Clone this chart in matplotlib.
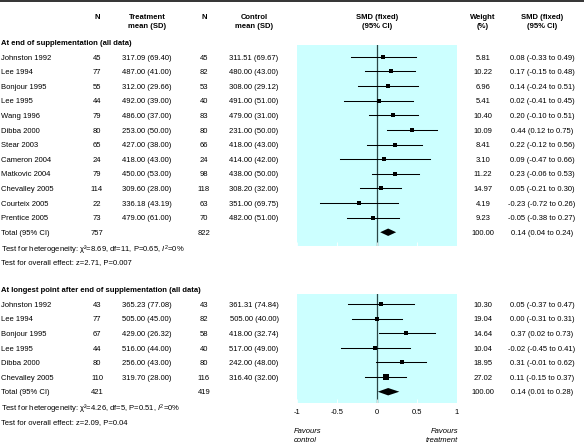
import matplotlib
matplotlib.use('Agg')
import matplotlib.pyplot as plt
import numpy as np

plt.rcParams['font.family'] = ['Liberation Sans', 'DejaVu Sans']
plt.rcParams['font.size'] = 5.5
plt.rcParams['mathtext.fontset'] = 'custom'
plt.rcParams['mathtext.rm'] = 'Liberation Sans'
plt.rcParams['mathtext.it'] = 'Liberation Sans:italic'

# ---- data: at end of supplementation ----
studies1 = ['Johnston 1992', 'Lee 1994', 'Bonjour 1995', 'Lee 1995', 'Wang 1996',
            'Dibba 2000', 'Stear 2003', 'Cameron 2004', 'Matkovic 2004',
            'Chevalley 2005', 'Courteix 2005', 'Prentice 2005']
n_trt1 = [45, 77, 55, 44, 79, 80, 65, 24, 79, 114, 22, 73]
mean_trt1 = [317.09, 487.00, 312.00, 492.00, 486.00, 253.00, 427.00, 418.00, 450.00, 309.60, 336.18, 479.00]
sd_trt1 = [69.40, 41.00, 29.66, 39.00, 37.00, 50.00, 38.00, 43.00, 53.00, 28.00, 43.19, 61.00]
n_ctl1 = [45, 82, 53, 40, 83, 80, 66, 24, 98, 118, 63, 70]
mean_ctl1 = [311.51, 480.00, 308.00, 491.00, 479.00, 231.00, 418.00, 414.00, 438.00, 308.20, 351.00, 482.00]
sd_ctl1 = [69.67, 43.00, 29.12, 51.00, 31.00, 50.00, 43.00, 42.00, 50.00, 32.00, 69.75, 51.00]
weight1 = [5.81, 10.22, 6.96, 5.41, 10.40, 10.09, 8.41, 3.10, 11.22, 14.97, 4.19, 9.23]
smd1 = [0.08, 0.17, 0.14, 0.02, 0.20, 0.44, 0.22, 0.09, 0.23, 0.05, -0.23, -0.05]
lo1 = [-0.33, -0.15, -0.24, -0.41, -0.10, 0.12, -0.12, -0.47, -0.06, -0.21, -0.72, -0.38]
hi1 = [0.49, 0.48, 0.51, 0.45, 0.51, 0.75, 0.56, 0.66, 0.53, 0.30, 0.26, 0.27]
total1 = [757, 822, 0.14, 0.04, 0.24]   # n trt, n ctl, smd, lo, hi
het1 = 'Test for heterogeneity: \u03c7\u00b2=8.69, df=11, P=0.65, $I^2$=0%'
eff1 = 'Test for overall effect: z=2.71, P=0.007'

# ---- data: at longest point after end of supplementation ----
studies2 = ['Johnston 1992', 'Lee 1994', 'Bonjour 1995', 'Lee 1995', 'Dibba 2000', 'Chevalley 2005']
n_trt2 = [43, 77, 67, 44, 80, 110]
mean_trt2 = [365.23, 505.00, 429.00, 516.00, 256.00, 319.70]
sd_trt2 = [77.08, 45.00, 26.32, 44.00, 43.00, 28.00]
n_ctl2 = [43, 82, 58, 40, 80, 116]
mean_ctl2 = [361.31, 505.00, 418.00, 517.00, 242.00, 316.40]
sd_ctl2 = [74.84, 40.00, 32.74, 49.00, 48.00, 32.00]
weight2 = [10.30, 19.04, 14.64, 10.04, 18.95, 27.02]
smd2 = [0.05, 0.00, 0.37, -0.02, 0.31, 0.11]
lo2 = [-0.37, -0.31, 0.02, -0.45, -0.01, -0.15]
hi2 = [0.47, 0.31, 0.73, 0.41, 0.62, 0.37]
total2 = [421, 419, 0.14, 0.01, 0.28]
het2 = 'Test for heterogeneity: \u03c7\u00b2=4.26, df=5, P=0.51, $I^2$=0%'
eff2 = 'Test for overall effect: z=2.09, P=0.04'

ticks = [-1, -0.5, 0, 0.5, 1]
tick_labels = ['-1', '-0.5', '0', '0.5', '1']

W, H = 584, 445
CYAN = '#ccffff'
X_STUDY, X_N1, X_M1, X_N2, X_M2, X_W, X_CI = 1, 97, 147, 204, 254, 483, 542
PX_L, PX_R = 297.3, 456.7
DY = 14.62
BASE = 2.7   # px from visual centre of a line down to its baseline
MATH_FIX = 2.8   # mathtext lines sit a little high with va='baseline'

fig = plt.figure(figsize=(W / 100, H / 100), dpi=100)
bg = fig.add_axes([0, 0, 1, 1])
bg.set_xlim(0, W)
bg.set_ylim(H, 0)
bg.axis('off')


def txt(x, y, s, ha='center', **kw):
    # y is the visual centre of the line in pixels
    if '$' in s:
        y += MATH_FIX
    bg.text(x, y + BASE, s, ha=ha, va='baseline', **kw)


# top rule
bg.plot([0, W], [0.8, 0.8], color='#333333', lw=1.4, solid_capstyle='butt')

# headers
for x, l1, l2 in [(X_N1, 'N', None), (X_M1, 'Treatment', 'mean (SD)'),
                  (X_N2, 'N', None), (X_M2, 'Control', 'mean (SD)'),
                  ((PX_L + PX_R) / 2, 'SMD (fixed)', '(95% CI)'),
                  (X_W, 'Weight', '(%)'), (X_CI, 'SMD (fixed)', '(95% CI)')]:
    txt(x, 16, l1, fontweight='bold')
    if l2:
        txt(x, 25.3, l2, fontweight='bold')


def section(title, y0, top, bottom, studies, nt, mt, st, nc, mc, sc, w, smd, lo, hi,
            total, het, eff, show_axis):
    ys = y0 + DY * np.arange(len(studies) + 3)
    txt(X_STUDY, y0 - DY, title, ha='left', fontweight='bold')
    for i, s in enumerate(studies):
        y = ys[i]
        txt(X_STUDY, y, s, ha='left')
        txt(X_N1, y, '%d' % nt[i])
        txt(X_M1, y, '%.2f (%.2f)' % (mt[i], st[i]))
        txt(X_N2, y, '%d' % nc[i])
        txt(X_M2, y, '%.2f (%.2f)' % (mc[i], sc[i]))
        txt(X_W, y, '%.2f' % w[i])
        txt(X_CI, y, '%.2f (%.2f to %.2f)' % (smd[i], lo[i], hi[i]))
    yt = ys[len(studies)]
    txt(X_STUDY, yt, 'Total (95% CI)', ha='left')
    txt(X_N1, yt, '%d' % total[0])
    txt(X_N2, yt, '%d' % total[1])
    txt(X_W, yt, '100.00')
    txt(X_CI, yt, '%.2f (%.2f to %.2f)' % (total[2], total[3], total[4]))
    txt(X_STUDY, ys[len(studies) + 1], het, ha='left')
    txt(X_STUDY, ys[len(studies) + 2], eff, ha='left')

    ax = fig.add_axes([PX_L / W, 1 - bottom / H, (PX_R - PX_L) / W, (bottom - top) / H])
    ax.set_facecolor(CYAN)
    ax.set_xlim(-1, 1)
    ax.set_ylim(bottom, top)
    for sp in ax.spines.values():
        sp.set_visible(False)
    ax.axvline(0, color='#2a4545', lw=0.9, zorder=1)
    for i in range(len(studies)):
        ax.plot([lo[i], hi[i]], [ys[i], ys[i]], color='black', lw=0.75, zorder=2)
        side = 1.8 + 0.7 * np.sqrt(w[i])   # px
        ax.plot(smd[i], ys[i], 's', color='black', ms=side * 0.72, mew=0, zorder=3)
    h = 3.7
    ax.fill([total[3], total[2], total[4], total[2]], [yt, yt - h, yt, yt + h],
            color='black', lw=0, zorder=3)
    ax.set_yticks([])
    ax.set_xticks(ticks)
    ax.tick_params(axis='x', direction='in', length=3, color='white', width=0.6, pad=4.5)
    if show_axis:
        ax.set_xticklabels(tick_labels)
    else:
        ax.set_xticklabels([])
    return ax


section('At end of supplementation (all data)', 56.8, 45, 245.7, studies1, n_trt1, mean_trt1,
        sd_trt1, n_ctl1, mean_ctl1, sd_ctl1, weight1, smd1, lo1, hi1, total1, het1, eff1, False)
section('At longest point after end of supplementation (all data)', 304, 293.5, 403, studies2,
        n_trt2, mean_trt2, sd_trt2, n_ctl2, mean_ctl2, sd_ctl2, weight2, smd2, lo2, hi2, total2,
        het2, eff2, True)

txt(294, 430, 'Favours', ha='left', style='italic')
txt(294, 439, 'control', ha='left', style='italic')
txt(458, 430, 'Favours', ha='right', style='italic')
txt(458, 439, 'treatment', ha='right', style='italic')

fig.savefig('out.png', dpi=100)
